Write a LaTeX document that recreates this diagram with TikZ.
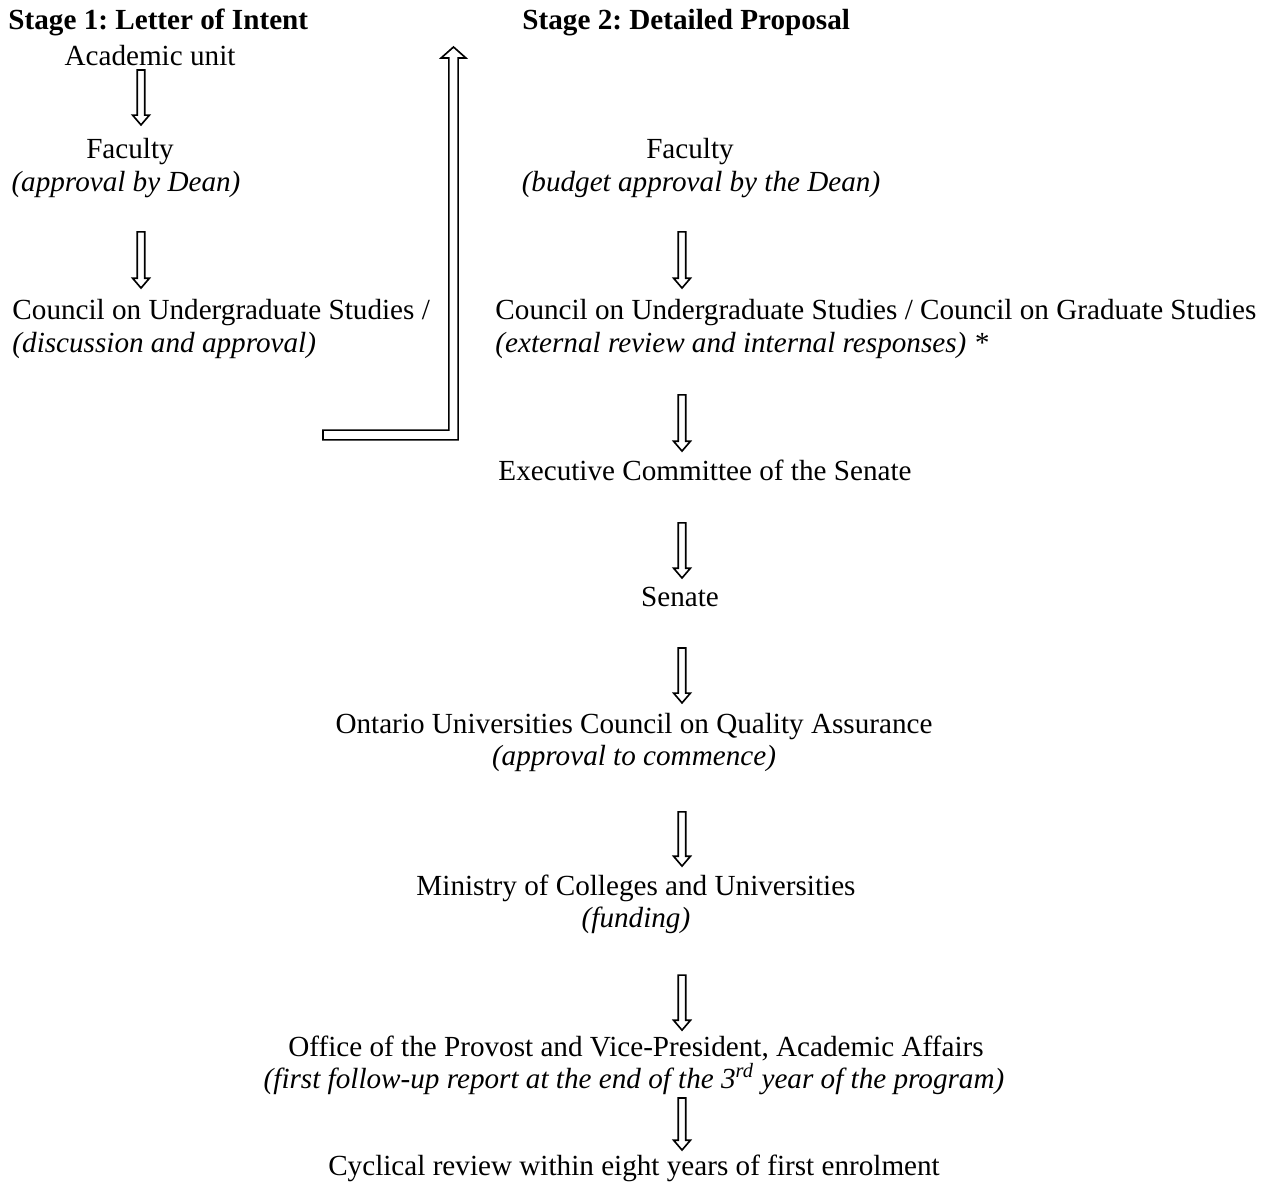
\documentclass[tikz,border=0pt]{standalone}
\usepackage{fontspec}
\setmainfont{Liberation Serif}
\frenchspacing
\usetikzlibrary{calc}
\tikzset{
  txt/.style={inner sep=0pt, anchor=base, font=\fontsize{12.5}{15}\selectfont},
  note/.style={inner sep=0pt, anchor=base, font=\fontsize{12.5}{15}\selectfont\itshape},
  stagehead/.style={inner sep=0pt, anchor=base west, font=\fontsize{12.5}{15}\selectfont\bfseries},
  flow/.style={line width=0.7pt, to path={
    let \p1=(\tikztostart), \p2=(\tikztotarget) in
    (\x1-1.6pt,\y1) -- (\x1-1.6pt,\y2+4.2pt) -- (\x1-3.6pt,\y2+4.2pt) -- (\x1,\y2)
    -- (\x1+3.6pt,\y2+4.2pt) -- (\x1+1.6pt,\y2+4.2pt) -- (\x1+1.6pt,\y1) -- cycle}}
}
\begin{document}
\begin{tikzpicture}[x=0.4286pt,y=-0.4286pt]
\useasboundingbox (0,0) rectangle (1270,1190);
\coordinate (colA) at (141,0);
\coordinate (colB) at (682,0);
% stage 1
\node[stagehead] (stage1) at (8,30) {Stage 1: Letter of Intent};
\node[txt] (acad) at (150,66) {Academic unit};
\node[txt] (fac1) at (130,159) {Faculty};
\node[note] (fac1n) at (126,192) {(approval by Dean)};
\node[txt, anchor=base west] (couc1) at (12,320) {Council on Undergraduate Studies /};
\node[note, anchor=base west] (couc1n) at (12,352) {(discussion and approval)};
% stage 2
\node[stagehead] (stage2) at (522,30) {Stage 2: Detailed Proposal};
\node[txt] (fac2) at (690,159) {Faculty};
\node[note] (fac2n) at (701,192) {(budget approval by the Dean)};
\node[txt, anchor=base west] (couc2) at (495,320) {Council on Undergraduate Studies / Council on Graduate Studies};
\node[note, anchor=base west] (couc2n) at (495,352) {(external review and internal responses) *};
\node[txt] (exec) at (705,480) {Executive Committee of the Senate};
\node[txt] (senate) at (680,606) {Senate};
\node[txt] (oucqa) at (634,733) {Ontario Universities Council on Quality Assurance};
\node[note] (oucqan) at (634,765) {(approval to commence)};
\node[txt] (mcu) at (636,895) {Ministry of Colleges and Universities};
\node[note] (mcun) at (636,927) {(funding)};
\node[txt] (provost) at (636,1056) {Office of the Provost and Vice-President, Academic Affairs};
\node[note] (provostn) at (634,1088) {(first follow-up report at the end of the 3\textsuperscript{rd} year of the program)};
\node[txt] (cyclic) at (634,1175) {Cyclical review within eight years of first enrolment};

\draw[flow] ([yshift=-1.7pt]acad.base -| colA) to ([yshift=14.6pt]fac1.base -| colA);
\draw[flow] ([yshift=-17.1pt]fac1n.base -| colA) to ([yshift=13.7pt]couc1.base -| colA);
\draw[flow] ([yshift=-17.1pt]fac2n.base -| colB) to ([yshift=13.7pt]couc2.base -| colB);
\draw[flow] ([yshift=-18.4pt]couc2n.base -| colB) to ([yshift=12.4pt]exec.base -| colB);
\draw[flow] ([yshift=-18.4pt]exec.base -| colB) to ([yshift=12pt]senate.base -| colB);
\draw[flow] ([yshift=-18pt]senate.base -| colB) to ([yshift=12.9pt]oucqa.base -| colB);
\draw[flow] ([yshift=-20.1pt]oucqan.base -| colB) to ([yshift=12.4pt]mcu.base -| colB);
\draw[flow] ([yshift=-20.6pt]mcun.base -| colB) to ([yshift=11.1pt]provost.base -| colB);
\draw[flow] ([yshift=-4.3pt]provostn.base -| colB) to ([yshift=10.7pt]cyclic.base -| colB);

% stage 1 leads on to stage 2
\coordinate (bendA) at (323,435);
\coordinate (bendT) at (453.5,47);
\draw[line width=0.7pt] let \p1=(bendA), \p2=(bendT) in
  (\x1,\y1+2.1pt) -- (\x2-2pt,\y1+2.1pt) -- (\x2-2pt,\y2-4.7pt) -- (\x2-5.3pt,\y2-4.7pt) -- (\x2,\y2)
  -- (\x2+5.3pt,\y2-4.7pt) -- (\x2+2pt,\y2-4.7pt) -- (\x2+2pt,\y1-2.1pt) -- (\x1,\y1-2.1pt) -- cycle;
\end{tikzpicture}
\end{document}
